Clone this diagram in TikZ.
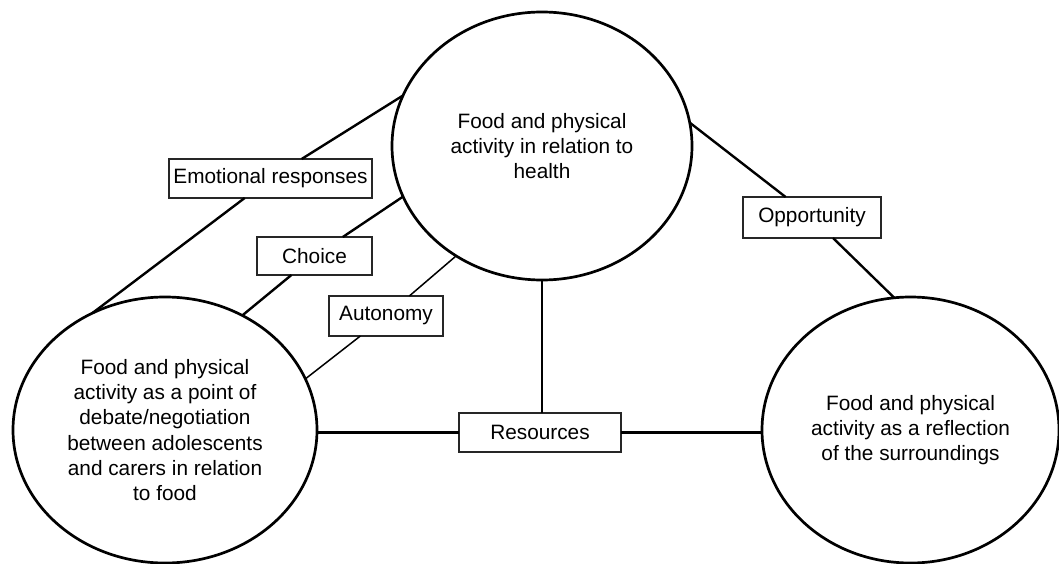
\documentclass[tikz,border=0pt]{standalone}
\usepackage{fontspec}
\setmainfont{Liberation Sans}
\usetikzlibrary{shapes.geometric}
\begin{document}
\begin{tikzpicture}[x=1pt,y=-1pt,
  bigell/.style={ellipse, draw, line width=2.7pt, inner sep=0pt, outer sep=0pt, align=center, font=\fontsize{20.8}{25.3}\selectfont},
  lbl/.style={rectangle, draw=black!85, line width=1.6pt, fill=white, inner sep=0pt, outer sep=0pt, font=\fontsize{20.8}{25.3}\selectfont},
  link/.style={line width=2.4pt},
  thinlink/.style={line width=1.5pt}]
\useasboundingbox (0,0) rectangle (1059,564);
\node[bigell, minimum width=300pt, minimum height=268pt] (top) at (542,146) {Food and physical\\activity in relation to\\health};
\node[bigell, minimum width=304pt, minimum height=266pt] (left) at (165,430) {Food and physical\\activity as a point of\\debate/negotiation\\between adolescents\\and carers in relation\\to food};
\node[bigell, minimum width=297pt, minimum height=266pt] (right) at (910.5,430) {Food and physical\\activity as a reflection\\of the surroundings};

\node[lbl, minimum width=203pt, minimum height=39pt] (emo) at (270.5,178.5) {Emotional responses};
\node[lbl, minimum width=115pt, minimum height=38pt] (choice) at (314.5,256) {Choice};
\node[lbl, minimum width=114pt, minimum height=40pt] (auto) at (386,316) {Autonomy};
\node[lbl, minimum width=138pt, minimum height=41pt] (opp) at (812,217.5) {Opportunity};
\node[lbl, minimum width=162pt, minimum height=39pt] (res) at (540,432.5) {Resources};

\draw[link] (top.160.7) -- (emo);
\draw[link] (emo) -- (left.122.4);
\draw[link] (top.200.1) -- (choice);
\draw[link] (choice) -- (left.56.3);
\draw[thinlink] (top.232.5) -- (auto);
\draw[thinlink] (auto) -- (left.20.1);
\draw[link] (top.9.4) -- (opp);
\draw[link] (opp) -- (right.97.9);
\draw[link] (top.south) -- (res.north -| top.south);
\draw[link] (res.west) -- (left.east |- res.west);
\draw[link] (res.east) -- (right.west |- res.east);
\end{tikzpicture}
\end{document}
